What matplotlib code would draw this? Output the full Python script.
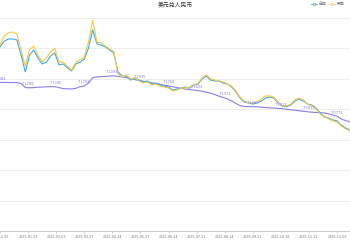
import numpy as np
import matplotlib
matplotlib.use('Agg')
from matplotlib import pyplot as plt
from matplotlib.lines import Line2D

plt.rcParams['font.family'] = ['Noto Sans CJK SC', 'DejaVu Sans']

# one point every 3 trading days, tick label every 20 trading days
tick_labels = ['2024-12-25', '2025-01-23', '2025-03-03', '2025-03-27', '2025-04-24',
               '2025-05-27', '2025-06-24', '2025-07-21', '2025-08-14', '2025-09-11',
               '2025-10-16', '2025-11-12', '2025-12-09']

onshore = [7.305, 7.324, 7.331, 7.331, 7.328, 7.278, 7.223, 7.278, 7.295, 7.269,
           7.249, 7.255, 7.275, 7.285, 7.246, 7.249, 7.236, 7.226, 7.249, 7.255,
           7.265, 7.301, 7.361, 7.315, 7.311, 7.305, 7.295, 7.285, 7.223, 7.209,
           7.209, 7.196, 7.203, 7.196, 7.190, 7.193, 7.183, 7.186, 7.180, 7.176,
           7.173, 7.163, 7.167, 7.170, 7.173, 7.170, 7.180, 7.183, 7.200, 7.209,
           7.196, 7.193, 7.193, 7.186, 7.183, 7.173, 7.157, 7.137, 7.124, 7.121,
           7.117, 7.121, 7.127, 7.137, 7.140, 7.137, 7.121, 7.111, 7.108, 7.114,
           7.127, 7.134, 7.127, 7.117, 7.114, 7.104, 7.088, 7.075, 7.071, 7.065,
           7.062, 7.048, 7.039, 7.032]

offshore = [7.311, 7.341, 7.351, 7.354, 7.347, 7.295, 7.242, 7.295, 7.308, 7.278,
            7.255, 7.269, 7.288, 7.301, 7.255, 7.255, 7.242, 7.229, 7.255, 7.262,
            7.272, 7.321, 7.393, 7.321, 7.318, 7.308, 7.298, 7.291, 7.216, 7.206,
            7.213, 7.200, 7.203, 7.193, 7.186, 7.190, 7.180, 7.183, 7.176, 7.173,
            7.170, 7.160, 7.163, 7.170, 7.170, 7.173, 7.180, 7.186, 7.203, 7.213,
            7.200, 7.196, 7.193, 7.190, 7.183, 7.176, 7.160, 7.140, 7.127, 7.121,
            7.121, 7.124, 7.134, 7.144, 7.144, 7.140, 7.124, 7.111, 7.111, 7.117,
            7.131, 7.137, 7.131, 7.117, 7.111, 7.101, 7.084, 7.078, 7.068, 7.062,
            7.058, 7.045, 7.036, 7.029]

# central parity
parity = [7.1884, 7.1882, 7.1880, 7.1879, 7.1878, 7.1850, 7.1712, 7.1706, 7.1712, 7.1725,
          7.1731, 7.1738, 7.1742, 7.1745, 7.1712, 7.1680, 7.1672, 7.1668, 7.1690, 7.1741,
          7.1763, 7.1860, 7.2035, 7.2066, 7.2071, 7.2080, 7.2092, 7.2098, 7.2082, 7.2065,
          7.2040, 7.2012, 7.1978, 7.1941, 7.1922, 7.1896, 7.1870, 7.1848, 7.1820, 7.1790,
          7.1768, 7.1740, 7.1712, 7.1688, 7.1665, 7.1648, 7.1631, 7.1615, 7.1592, 7.1560,
          7.1527, 7.1480, 7.1430, 7.1385, 7.1340, 7.1270, 7.1190, 7.1120, 7.1092, 7.1088,
          7.1085, 7.1081, 7.1070, 7.1058, 7.1049, 7.1040, 7.1030, 7.1020, 7.1002, 7.0985,
          7.0968, 7.0952, 7.0935, 7.0918, 7.0905, 7.0896, 7.0888, 7.0880, 7.0850, 7.0810,
          7.0773, 7.0680, 7.0630, 7.0590]

# parity values shown at each tick date
parity_marks = ['7.1884', '7.1708', '7.1745', '7.1763', '7.2098', '7.1935', '7.1768',
                '7.1622', '7.1371', '7.1085', '7.1023', '7.0912', '7.0773']

blue = '#48a6e0'
yellow = '#f2c94c'
purple = '#8a7ee6'

x = np.arange(len(onshore)) * 3
xp = np.arange(len(parity)) * 3
ticks = np.arange(len(tick_labels)) * 20

fig = plt.figure(figsize=(3.5, 2.5), dpi=100)
ax = fig.add_axes([0, 19 / 250, 1, 213 / 250])

ax.plot(xp, parity, color=purple, lw=0.8, zorder=2)
ax.plot(x, onshore, color=blue, lw=0.8, zorder=3)
ax.plot(x, offshore, color=yellow, lw=0.8, zorder=3)

for t, s in zip(ticks, parity_marks):
    ax.annotate(s, (t, float(s)), xytext=(0, 1.2), textcoords='offset points',
                ha='center', va='bottom', fontsize=2.6, color=purple,
                family='DejaVu Sans', zorder=4)

ax.set_xlim(0, 249.2)
ax.set_ylim(6.7, 7.4)
ax.set_yticks(np.arange(6.7, 7.41, 0.1))
ax.grid(axis='y', color='#ececec', lw=0.7)
ax.set_axisbelow(True)
ax.set_xticks(ticks)
ax.set_xticklabels(tick_labels, fontsize=2.4, color='#777777', family='DejaVu Sans')
ax.tick_params(axis='x', length=1.5, width=0.5, color='#bbbbbb', pad=1.5)
ax.tick_params(axis='y', left=False, labelleft=False)
for side in ['top', 'right', 'left']:
    ax.spines[side].set_visible(False)
ax.spines['bottom'].set_color('#cccccc')
ax.spines['bottom'].set_linewidth(0.7)

fig.text(0.5, 1 - 5 / 250, '美元兑人民币', ha='center', va='center',
         fontsize=4.2, color='#333333')

handles = [Line2D([0], [0], color=blue, lw=0.6, marker='o', ms=1.8,
                  markerfacecolor='white', markeredgewidth=0.5),
           Line2D([0], [0], color=yellow, lw=0.6, marker='o', ms=1.8,
                  markerfacecolor='white', markeredgewidth=0.5)]
fig.legend(handles, ['在岸', '离岸'], loc='upper right', bbox_to_anchor=(0.995, 1.005),
           ncol=2, fontsize=2.8, frameon=False, handlelength=1.6, handletextpad=0.4,
           columnspacing=0.8, labelcolor='#666666')

fig.savefig('out.png', dpi=100)
